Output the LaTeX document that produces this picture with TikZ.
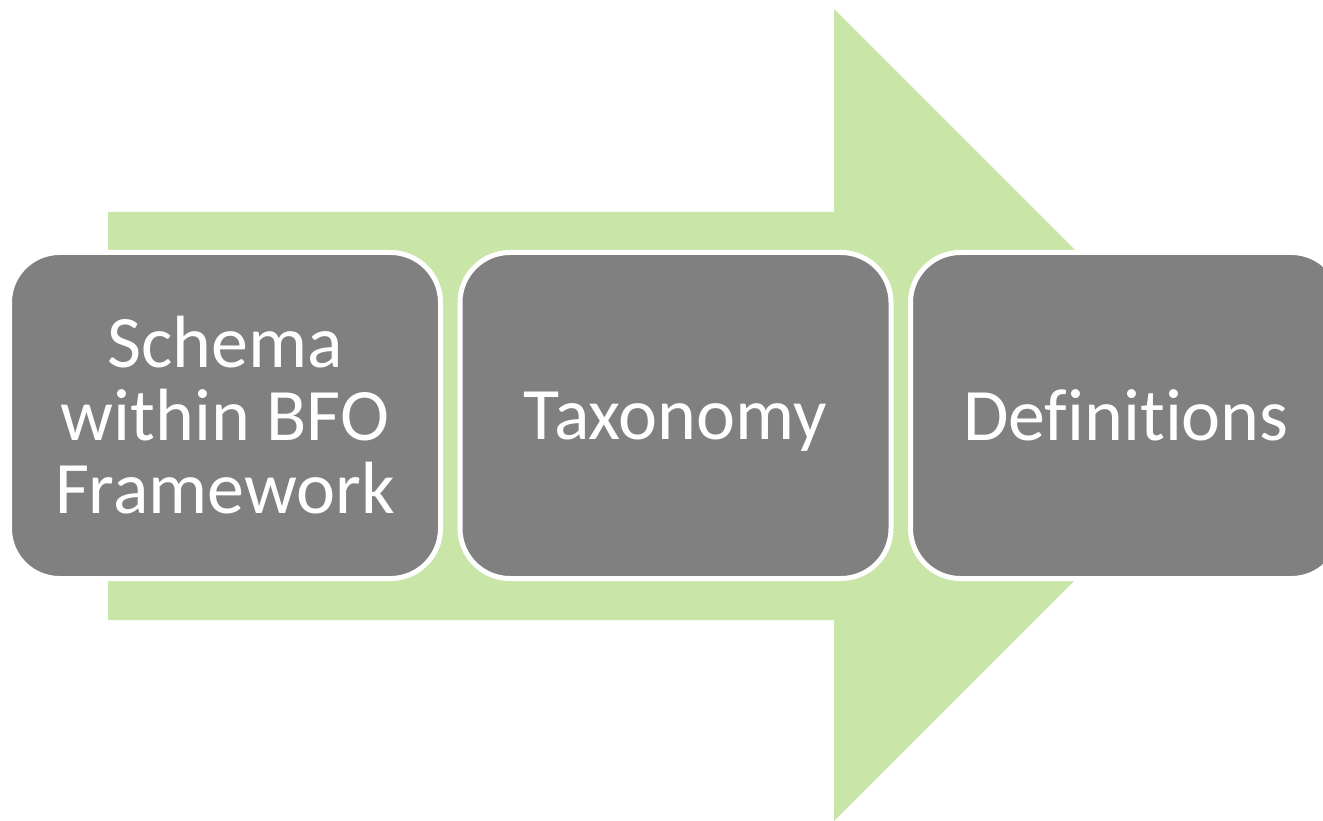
\documentclass[tikz,border=0pt]{standalone}
\usepackage{fontspec}
\setmainfont{Carlito}[Ligatures={NoCommon,NoDiscretionary,NoContextual}]
\definecolor{arrowgreen}{RGB}{201,230,168}
\definecolor{boxgray}{RGB}{128,128,128}
\tikzset{
  stage/.style={draw=white, line width=5pt, fill=boxgray, rounded corners=50pt,
    minimum width=431pt, minimum height=326pt, inner sep=0pt,
    text=white, align=center, font=\fontsize{74}{73}\selectfont},
  flow/.style={fill=arrowgreen, draw=none}
}
\begin{document}
\begin{tikzpicture}[x=1pt,y=-1pt]
  \useasboundingbox (0,0) rectangle (1323,821);
  \clip (0,0) rectangle (1323,821);
  % large block arrow behind the stages
  \fill[flow] (108,212) -- (834,212) -- (834,9) -- (1240,415) -- (834,821)
    -- (834,620) -- (108,620) -- cycle;
  % the three stages
  \node[stage] (schema) at (225,415.5) {Schema\\within BFO\\Framework};
  \node[stage, text depth=0pt] (taxonomy) at (675.5,415.5) {Taxonomy};
  \node[stage, text depth=0pt] (definitions) at (1126,415.5) {Definitions};
\end{tikzpicture}
\end{document}
